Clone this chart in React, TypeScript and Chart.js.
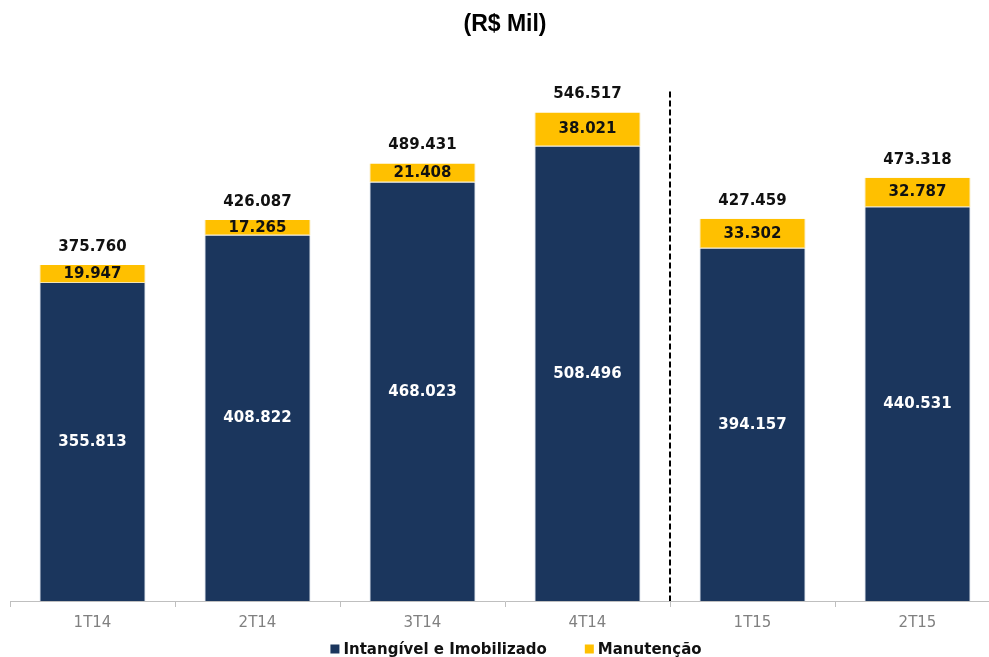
import React, { useEffect, useRef } from "react";
import { Chart, registerables } from "chart.js";

Chart.register(...registerables);

const categories = ["1T14", "2T14", "3T14", "4T14", "1T15", "2T15"];
const intangivel = [355.813, 408.822, 468.023, 508.496, 394.157, 440.531];
const manutencao = [19.947, 17.265, 21.408, 38.021, 33.302, 32.787];
const totals = [375.76, 426.087, 489.431, 546.517, 427.459, 473.318];
const seriesNames = ["Intangível e Imobilizado", "Manutenção"];
const dividerTopValue = 570;

const NAVY = "#1B365D";
const YELLOW = "#FFC000";
const FONT = "'DejaVu Sans', sans-serif";

const fmt = (v: number) => v.toFixed(3);

const labelsPlugin = {
  id: "labelsPlugin",
  afterDatasetsDraw(chart: any) {
    const ctx = chart.ctx;
    const m0 = chart.getDatasetMeta(0);
    const m1 = chart.getDatasetMeta(1);
    const yScale = chart.scales.y;
    ctx.save();
    ctx.textAlign = "center";
    ctx.textBaseline = "middle";
    categories.forEach((_, i) => {
      const b0 = m0.data[i] as any;
      const b1 = m1.data[i] as any;
      ctx.font = `bold 15px ${FONT}`;
      ctx.fillStyle = "#ffffff";
      ctx.fillText(fmt(intangivel[i]), b0.x, (b0.y + b0.base) / 2);
      ctx.fillStyle = "#111111";
      ctx.fillText(fmt(manutencao[i]), b1.x, (b1.y + b1.base) / 2);
      ctx.fillText(fmt(totals[i]), b1.x, b1.y - 18);
    });
    // dashed divider
    const x = ((m0.data[3] as any).x + (m0.data[4] as any).x) / 2;
    ctx.beginPath();
    ctx.setLineDash([6, 3]);
    ctx.lineWidth = 2;
    ctx.strokeStyle = "#000000";
    ctx.moveTo(x, yScale.getPixelForValue(dividerTopValue));
    ctx.lineTo(x, chart.chartArea.bottom);
    ctx.stroke();
    ctx.restore();
  },
  afterDraw(chart: any) {
    const ctx = chart.ctx;
    const area = chart.chartArea;
    ctx.save();
    ctx.font = `bold 15px ${FONT}`;
    ctx.textBaseline = "middle";
    ctx.textAlign = "left";
    const box = 9;
    const gapText = 4;
    const gapItems = 38;
    const colors = [NAVY, YELLOW];
    const widths = seriesNames.map((n) => box + gapText + ctx.measureText(n).width);
    const total = widths[0] + widths[1] + gapItems;
    let x = (area.left + area.right) / 2 + 11 - total / 2;
    const y = area.bottom + 48;
    seriesNames.forEach((n, i) => {
      ctx.fillStyle = colors[i];
      ctx.fillRect(x, y - box / 2, box, box);
      ctx.fillStyle = "#111111";
      ctx.fillText(n, x + box + gapText, y + 1);
      x += widths[i] + gapItems;
    });
    ctx.restore();
  },
};

export default function App() {
  const ref = useRef<HTMLCanvasElement | null>(null);
  useEffect(() => {
    if (!ref.current) return;
    const chart = new Chart(ref.current, {
      type: "bar",
      data: {
        labels: categories,
        datasets: [
          {
            label: seriesNames[0],
            data: intangivel,
            backgroundColor: NAVY,
            borderColor: "#d5dde8",
            borderWidth: { left: 1, right: 1, top: 0, bottom: 0 },
            borderSkipped: false,
            categoryPercentage: 1,
            barPercentage: 0.643,
          },
          {
            label: seriesNames[1],
            data: manutencao,
            backgroundColor: YELLOW,
            borderColor: "#f3e3b0",
            borderWidth: { left: 1, right: 1, top: 0, bottom: 1 },
            borderSkipped: false,
            categoryPercentage: 1,
            barPercentage: 0.643,
          },
        ],
      },
      options: {
        animation: false,
        responsive: true,
        maintainAspectRatio: false,
        layout: { padding: { left: 10, right: 0, top: 0, bottom: 18 } },
        plugins: {
          title: {
            display: true,
            text: "(R$ Mil)",
            color: "#000",
            font: { family: "'Liberation Sans', Arial, sans-serif", size: 23, weight: "bold" },
            padding: { top: 11, bottom: 26 },
          },
          legend: { display: false },
          tooltip: { enabled: false },
        },
        scales: {
          x: {
            stacked: true,
            grid: {
              offset: true,
              drawOnChartArea: false,
              drawTicks: true,
              tickLength: 6,
              color: "#bfbfbf",
            },
            border: { color: "#bfbfbf", width: 1 },
            ticks: {
              color: "#808080",
              font: { family: FONT, size: 15 },
              padding: 7,
            },
          },
          y: {
            stacked: true,
            display: false,
            min: 0,
            max: 600,
          },
        },
      },
      plugins: [labelsPlugin],
    });
    return () => chart.destroy();
  }, []);
  return (
    <div
      style={{
        position: "fixed",
        left: 0,
        top: 0,
        width: 989,
        height: 657,
        overflow: "hidden",
        background: "#fff",
      }}
    >
      <div style={{ position: "relative", width: 1000, height: 657 }}>
        <canvas ref={ref} />
      </div>
    </div>
  );
}
